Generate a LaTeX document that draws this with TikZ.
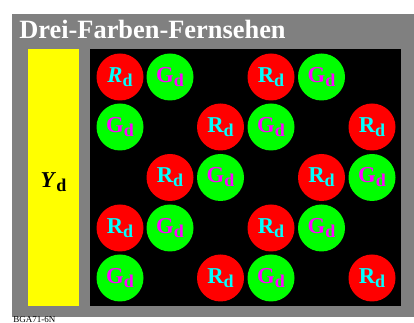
\documentclass[tikz,border=0pt]{standalone}
\usepackage{fontspec}
\setmainfont{Liberation Serif}
\definecolor{bggray}{RGB}{128,128,128}
\definecolor{pyellow}{RGB}{255,255,0}
\definecolor{pred}{RGB}{255,0,0}
\definecolor{pgreen}{RGB}{0,255,0}
\definecolor{pcyan}{RGB}{0,255,255}
\definecolor{pmagenta}{RGB}{255,0,255}
\newcommand{\mysub}[1]{\raisebox{-3pt}{\fontsize{13.5}{14}\selectfont\bfseries #1}}
\tikzset{
  rdot/.style={circle,fill=pred,draw=none,inner sep=0pt,minimum size=35.25pt,text=pcyan,font=\fontsize{17}{18}\selectfont\bfseries},
  gdot/.style={circle,fill=pgreen,draw=none,inner sep=0pt,minimum size=35.25pt,text=pmagenta,font=\fontsize{17}{18}\selectfont\bfseries}
}
\begin{document}
\begin{tikzpicture}[x=0.75pt,y=-0.75pt]
\useasboundingbox (0,0) rectangle (414,323);
\fill[white] (0,0) rectangle (414,323);
\fill[bggray] (12,14) rectangle (414,317);
\node[anchor=base west,text=white,inner sep=0pt,font=\fontsize{19.8}{22}\selectfont\bfseries] (title) at (19,38.5) {Drei-Farben-Fernsehen};
\fill[pyellow] (28,49) rectangle (79,306.5);
\node[inner sep=0pt,font=\fontsize{17}{18}\selectfont\bfseries] (yd) at (53.5,182) {\textit{Y}\mysub{d}};
\fill[black] (90,49) rectangle (401,306.5);
% row 1
\node[rdot] (r11) at (120,77) {\textit{R}\mysub{d}};
\node[gdot] (g12) at (170,77) {G\mysub{d}};
\node[rdot] (r14) at (271,77) {R\mysub{d}};
\node[gdot] (g15) at (321.5,77) {G\mysub{d}};
% row 2
\node[gdot] (g21) at (120,127) {G\mysub{d}};
\node[rdot] (r23) at (220.5,127) {R\mysub{d}};
\node[gdot] (g24) at (271,127) {G\mysub{d}};
\node[rdot] (r26) at (372,127) {R\mysub{d}};
% row 3
\node[rdot] (r32) at (170,177.5) {R\mysub{d}};
\node[gdot] (g33) at (220.5,177.5) {G\mysub{d}};
\node[rdot] (r35) at (321.5,177.5) {R\mysub{d}};
\node[gdot] (g36) at (372,177.5) {G\mysub{d}};
% row 4
\node[rdot] (r41) at (120,228) {R\mysub{d}};
\node[gdot] (g42) at (170,228) {G\mysub{d}};
\node[rdot] (r44) at (271,228) {R\mysub{d}};
\node[gdot] (g45) at (321.5,228) {G\mysub{d}};
% row 5
\node[gdot] (g51) at (120,278) {G\mysub{d}};
\node[rdot] (r53) at (220.5,278) {R\mysub{d}};
\node[gdot] (g54) at (271,278) {G\mysub{d}};
\node[rdot] (r56) at (372,278) {R\mysub{d}};
\node[anchor=base west,inner sep=0pt,font=\fontsize{6.75}{7}\selectfont] (foot) at (13,322.8) {BGA71-6N};
\end{tikzpicture}
\end{document}
